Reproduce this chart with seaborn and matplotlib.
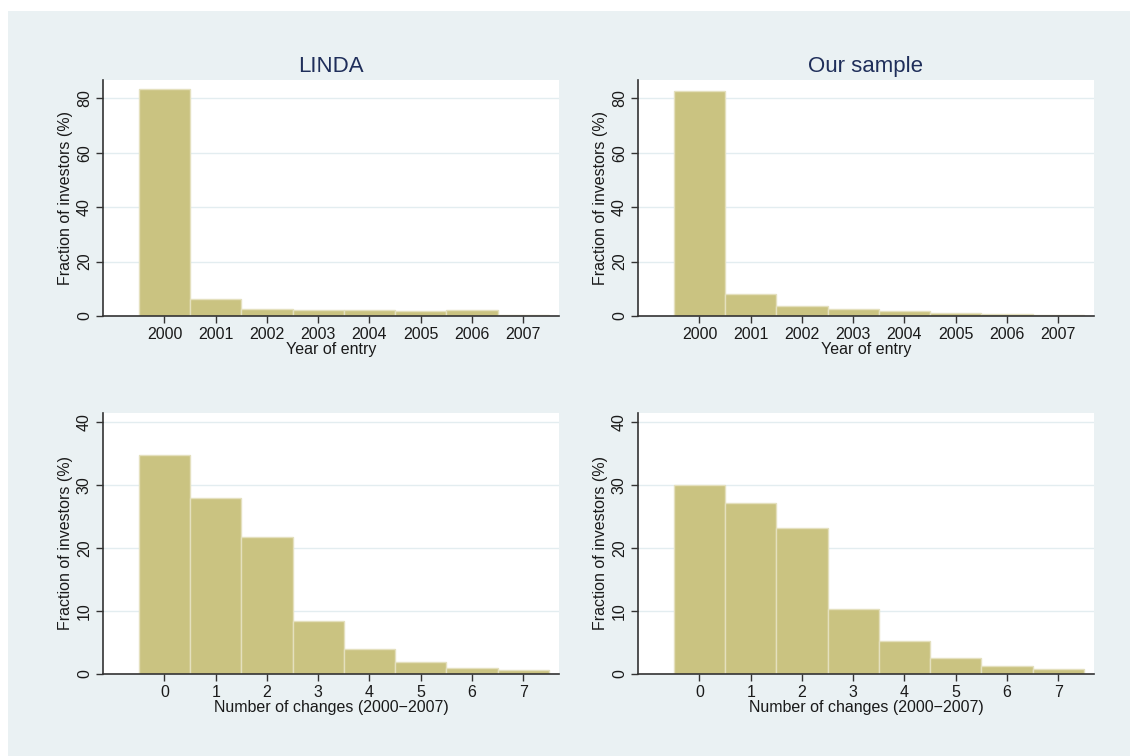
import matplotlib
matplotlib.use("Agg")
import matplotlib.pyplot as plt
import seaborn as sns
import numpy as np
from matplotlib.patches import Rectangle

# ---- data ----
years = [2000, 2001, 2002, 2003, 2004, 2005, 2006, 2007]
linda_entry = [83.3, 6.4, 2.6, 2.1, 2.1, 1.7, 2.2, 0.2]
sample_entry = [82.8, 8.0, 3.7, 2.7, 1.8, 1.1, 0.7, 0.25]

changes = [0, 1, 2, 3, 4, 5, 6, 7]
linda_changes = [34.8, 28.0, 21.8, 8.5, 4.0, 1.9, 0.9, 0.6]
sample_changes = [30.0, 27.2, 23.2, 10.3, 5.2, 2.6, 1.2, 0.85]

titles = ["LINDA", "Our sample"]
ylabel = "Fraction of investors (%)"
xlabel_top = "Year of entry"
xlabel_bottom = "Number of changes (2000\u22122007)"

sns.set_theme(style="white")
plt.rcParams['font.family'] = ['Liberation Sans', 'DejaVu Sans']

BG = "#EAF1F3"
BAR = "#CAC381"
EDGE = "#E4E0BE"
NAVY = "#1F2E5A"
TXT = "#1a1a1a"

fig = plt.figure(figsize=(11.3, 7.56), dpi=100, facecolor="white")
fig.patches.append(Rectangle((8 / 1130, 0), 1 - 8 / 1130, 1 - 11 / 756,
                             transform=fig.transFigure, facecolor=BG,
                             edgecolor="none", zorder=-10))

W = 456 / 1130
lefts = [103 / 1130, 638 / 1130]
top_b, top_h = (756 - 316) / 756, 236 / 756
bot_b, bot_h = (756 - 674) / 756, 261 / 756

def style(ax, yticks, ylim, xlim, xticks, xlabel):
    ax.set_facecolor("white")
    ax.set_xlim(*xlim)
    ax.set_ylim(*ylim)
    ax.set_yticks(yticks)
    ax.set_yticklabels([str(t) for t in yticks], rotation=90, va="center",
                       fontsize=11.5, color=TXT)
    ax.set_xticks(xticks)
    ax.set_xticklabels([str(t) for t in xticks], fontsize=11.5, color=TXT)
    ax.grid(axis="y", color="#E3EDF0", linewidth=1.0)
    ax.grid(axis="x", visible=False)
    ax.set_axisbelow(True)
    for s in ["top", "right"]:
        ax.spines[s].set_visible(False)
    for s in ["left", "bottom"]:
        ax.spines[s].set_color("#333333")
        ax.spines[s].set_linewidth(1.2)
    ax.tick_params(axis="both", which="major", direction="out", length=5,
                   width=1.0, color="#333333", pad=3, left=True, bottom=True)
    ax.set_ylabel(ylabel, fontsize=11.5, color=TXT, labelpad=3)
    ax.set_xlabel(xlabel, fontsize=11.5, color=TXT, labelpad=0)

datasets = [
    (linda_entry, sample_entry, years, (1998.8, 2007.7), (0, 86.7), [0, 20, 40, 60, 80], xlabel_top, top_b, top_h),
    (linda_changes, sample_changes, changes, (-1.2, 7.7), (0, 41.5), [0, 10, 20, 30, 40], xlabel_bottom, bot_b, bot_h),
]

for row, (a, b, xs, xlim, ylim, yt, xl, bb, hh) in enumerate(datasets):
    for col, vals in enumerate([a, b]):
        ax = fig.add_axes([lefts[col], bb, W, hh])
        sns.histplot(x=xs, weights=vals, discrete=True, ax=ax,
                     color=BAR, alpha=1, edgecolor=EDGE, linewidth=1.0)
        style(ax, yt, ylim, xlim, xs, xl)
        if row == 0:
            ax.set_title(titles[col], fontsize=16, color=NAVY, pad=6)

fig.savefig("out.png", dpi=100, facecolor="white")
